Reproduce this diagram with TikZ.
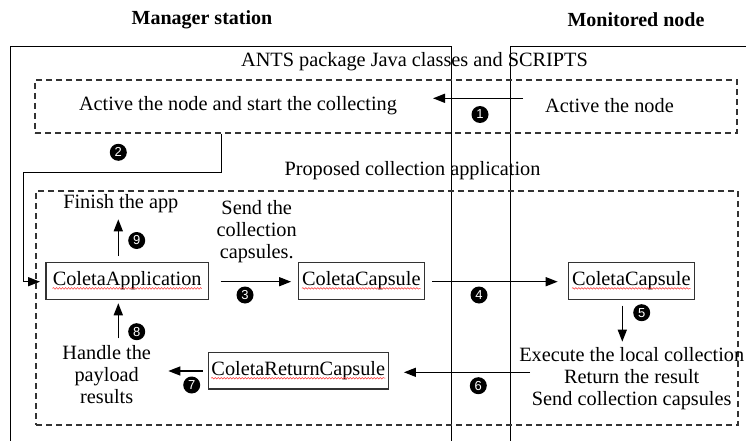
\documentclass[tikz,border=0pt]{standalone}
\usepackage{fontspec}
\setmainfont{Liberation Serif}
\setsansfont{Liberation Sans}
\usetikzlibrary{arrows.meta,decorations.pathmorphing}
\begin{document}
\begin{tikzpicture}[x=1pt,y=-1pt,
  txt/.style={inner sep=0pt,font=\fontsize{20.3}{22}\selectfont,align=center},
  ttl/.style={inner sep=0pt,font=\fontsize{20}{22}\selectfont\bfseries},
  frame/.style={line width=1pt,black},
  dbox/.style={draw=black!80,line width=1.3pt,dash pattern=on 6pt off 4pt,minimum width=702pt,inner sep=0pt},
  cbox/.style={draw=black!80,line width=1.2pt,inner sep=0pt,minimum height=36.5pt},
  arr/.style={line width=1.4pt,-{Triangle[length=12pt,width=9pt]}},
  badge/.style={circle,fill=black,text=white,inner sep=0pt,minimum size=17pt,font=\fontsize{13}{13}\sffamily},
  squig/.style={draw=red!80!white,line width=0.5pt,decorate,decoration={snake,amplitude=0.8pt,segment length=3pt}}
]
\useasboundingbox (0,0) rectangle (746,441);
\fill[white] (0,0) rectangle (746,441);

% titles
\node[ttl] (mgr) at (202,19.3) {Manager station};
\node[ttl] (mon) at (636,19.3) {Monitored node};

% station frames
\draw[frame] (10.7,441) -- (10.7,46.7) -- (451.7,46.7) -- (451.7,441);
\draw[frame] (510,441) -- (510,46.7) -- (746,46.7);

\node[txt] (ants) at (414.5,61.7) {ANTS package Java classes and SCRIPTS};

% dashed box 1
\node[dbox,minimum height=53pt] (dbox1) at (386,106.5) {};
\node[txt] (act) at (238,106) {Active the node and start the collecting};
\node[txt] (actn) at (609.5,106) {Active the node};
\coordinate (a1s) at (523,98.3);
\coordinate (a1e) at (433,98.3);
\draw[arr] (a1s) -- (a1e);
\node[badge] (b1) at (480,114.5) {1};

% connector 2
\coordinate (p2a) at (221.7,172.7);
\coordinate (p2b) at (23.3,281.7);
\coordinate (p2c) at (40,281.7);
\draw[arr] (dbox1.south -| p2a) -- (p2a) -| (p2b) -- (p2c);
\node[badge] (b2) at (118.3,152.3) {2};

\node[txt] (prop) at (412.5,170.7) {Proposed collection application};

% dashed box 2
\node[dbox,minimum height=234pt] (dbox2) at (387,308) {};

% boxes
\node[cbox,minimum width=162.3pt] (app) at (127.2,281) {};
\node[txt] (appT) at (app) {ColetaApplication};
\node[cbox,minimum width=126pt] (cap1) at (361.3,281) {};
\node[txt] (cap1T) at (cap1) {ColetaCapsule};
\node[cbox,minimum width=126pt] (cap2) at (631.3,281) {};
\node[txt] (cap2T) at (cap2) {ColetaCapsule};
\node[cbox,minimum width=180pt,minimum height=36.3pt] (ret) at (298.3,370.8) {};
\node[txt] (retT) at (ret) {ColetaReturnCapsule};

\foreach \n in {appT,cap1T,cap2T,retT}{
  \draw[squig] ([yshift=-2.5pt]\n.base west) -- ([yshift=-2.5pt]\n.base east);
}

% other texts
\node[txt] (fin) at (120.8,203.3) {Finish the app};
\node[txt] (send) at (256.7,232) {Send the\\collection\\capsules.};
\node[txt] (exec) at (631.7,378.3) {Execute the local collection\\Return the result\\Send collection capsules};
\node[txt] (hand) at (106.7,375) {Handle the\\payload\\results};

% arrow 3
\draw[arr,shorten <=11.7pt,shorten >=6.6pt] (app.east |- 0,281.7) -- (cap1.west |- 0,281.7);
\node[badge] (b3) at (245,295) {3};
% arrow 4
\draw[arr,shorten <=7.4pt,shorten >=10pt] (cap1.east |- 0,281.7) -- (cap2.west |- 0,281.7);
\node[badge] (b4) at (479,295) {4};
% arrow 5
\coordinate (a5) at (622.3,341.7);
\draw[arr,shorten <=5.7pt] (cap2.south -| a5) -- (a5);
\node[badge] (b5) at (641.7,312.7) {5};
% arrow 6
\coordinate (a6s) at (530,372.3);
\draw[arr,shorten >=15pt] (a6s) -- (ret.east |- a6s);
\node[badge] (b6) at (478.3,385.7) {6};
% arrow 7
\coordinate (a7e) at (168.3,371);
\draw[arr,shorten <=5pt] (ret.west |- a7e) -- (a7e);
\node[badge] (b7) at (191.7,385) {7};
% arrow 8
\coordinate (a8s) at (118.3,338.3);
\draw[arr,shorten >=3.4pt] (a8s) -- (app.south -| a8s);
\node[badge] (b8) at (136.7,331.7) {8};
% arrow 9
\coordinate (a9e) at (118.3,219.3);
\draw[arr,shorten <=6pt] (app.north -| a9e) -- (a9e);
\node[badge] (b9) at (136.7,240.5) {9};
\end{tikzpicture}
\end{document}
